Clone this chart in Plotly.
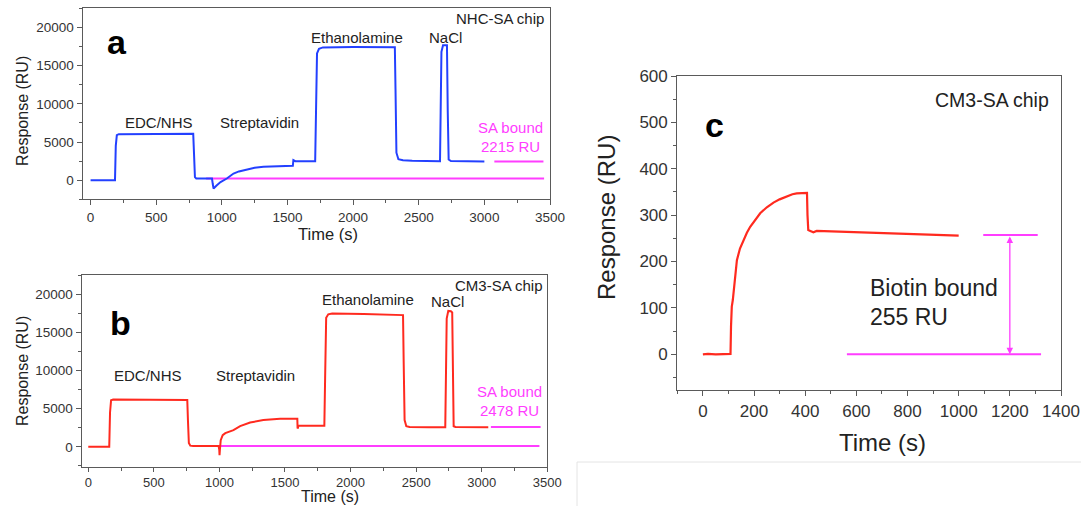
import plotly.graph_objects as go

W, H = 1081, 506
FONT = "Liberation Sans, Arial, sans-serif"
BLUE = "#2340ff"
RED = "#ff2a1f"
MAG = "#ff3dff"
AX = "#5a5a5a"
TXT = "#222222"

# ---------------- Panel a : NHC-SA chip (blue sensorgram) ----------------
a_time = [0, 186, 192, 200, 215, 400, 600, 782, 788, 795, 805, 850, 925, 931, 937, 960, 990,
          1038, 1060, 1089, 1130, 1190, 1250, 1317, 1380, 1444, 1500, 1541, 1545, 1560, 1711,
          1717, 1725, 1740, 1770, 2000, 2200, 2318, 2323, 2330, 2345, 2380, 2450, 2550, 2662,
          2667, 2673, 2685, 2700, 2715, 2721, 2728, 2745, 2850, 3000]
a_resp = [0, 0, 4500, 5900, 6020, 6060, 6080, 6080, 3500, 400, 230, 220, 220, -500, -1090, -700, -250,
          220, 500, 870, 1150, 1440, 1630, 1745, 1780, 1810, 1850, 1880, 2620, 2490, 2490,
          9000, 16600, 17200, 17380, 17420, 17420, 17400, 12000, 3600, 2750, 2620, 2560, 2520, 2490,
          9000, 16800, 17650, 17700, 17650, 9000, 2700, 2500, 2460, 2440]
a_base_t = [880, 3455]
a_base_r = [220, 220]
a_bound_t = [3076, 3450]
a_bound_r = [2450, 2450]

# ---------------- Panel b : CM3-SA chip (red sensorgram) ----------------
b_time = [0, 160, 166, 174, 190, 400, 600, 755, 760, 767, 778, 800, 890, 994, 999, 1001, 1004,
          1010, 1025, 1045, 1069, 1107, 1158, 1234, 1335, 1463, 1594, 1596, 1599, 1602, 1700,
          1800, 1806, 1814, 1830, 1860, 2100, 2300, 2400, 2405, 2412, 2425, 2450, 2600, 2722,
          2727, 2733, 2745, 2765, 2775, 2780, 2786, 2800, 2950, 3050]
b_resp = [0, 0, 4500, 6100, 6200, 6200, 6170, 6130, 3500, 500, 150, 100, 100, 100, -400, -1090, -300,
          880, 1530, 1800, 1970, 2190, 2710, 3190, 3500, 3670, 3690, 2400, 2500, 2750, 2750,
          2750, 9000, 16900, 17350, 17450, 17400, 17350, 17250, 11000, 3500, 2700, 2600, 2580, 2580,
          9000, 16800, 17800, 17750, 17600, 9000, 2700, 2600, 2580, 2580]
b_base_t = [891, 3440]
b_base_r = [100, 100]
b_bound_t = [3070, 3449]
b_bound_r = [2600, 2600]

# ---------------- Panel c : biotin binding on CM3-SA chip ----------------
c_time = [0, 20, 50, 80, 108, 110, 113, 117, 125, 133, 145, 159, 172, 185, 205, 224, 250, 276,
          300, 328, 350, 367, 390, 407, 409, 412, 420, 432, 445, 497, 600, 700, 800, 900, 1000]
c_resp = [0, 1, 0, 1, 1, 60, 103, 117, 160, 203, 228, 246, 262, 275, 291, 304, 317, 327,
          334, 341, 345, 347, 348, 348, 300, 268, 266, 263, 266, 265, 263, 261, 259, 257, 256]
c_base_t = [563, 1322]
c_base_r = [0, 0]
c_bound_t = [1096, 1309]
c_bound_r = [257, 257]
c_arrow_x = 1200

fig = go.Figure()

def line(x, y, color, xa, ya, w=2.0):
    fig.add_trace(go.Scatter(x=x, y=y, mode="lines", line=dict(color=color, width=w),
                             xaxis=xa, yaxis=ya, showlegend=False, hoverinfo="skip"))

line(a_base_t, a_base_r, MAG, "x", "y")
line(a_bound_t, a_bound_r, MAG, "x", "y")
line(a_time, a_resp, BLUE, "x", "y")
line(b_base_t, b_base_r, MAG, "x2", "y2")
line(b_bound_t, b_bound_r, MAG, "x2", "y2")
line(b_time, b_resp, RED, "x2", "y2")
line(c_base_t, c_base_r, MAG, "x3", "y3")
line(c_bound_t, c_bound_r, MAG, "x3", "y3")
line(c_time, c_resp, RED, "x3", "y3", 2.2)

def px_dom(a, b, n):
    return [a / n, b / n]

def py_dom(top, bottom):
    return [1 - bottom / H, 1 - top / H]

def axis(domain, anchor, rng, dtick, mdtick, tsize, tlen=5):
    return dict(domain=domain, anchor=anchor, range=rng, dtick=dtick, tick0=0,
                automargin=False, tickformat="d",
                showline=True, linecolor=AX, linewidth=1.3, mirror=True,
                ticks="outside", ticklen=tlen, tickwidth=1.2, tickcolor=AX,
                minor=dict(dtick=mdtick, tick0=0, ticks="outside", ticklen=3, tickwidth=1.1, tickcolor=AX),
                showgrid=False, zeroline=False,
                tickfont=dict(family=FONT, size=tsize, color="#333333"))

layout = dict(
    width=W, height=H, margin=dict(l=0, r=0, t=0, b=0, autoexpand=False),
    paper_bgcolor="white", plot_bgcolor="white", showlegend=False,
    xaxis=axis(px_dom(82.7, 550, W), "y", [-60, 3500], 500, 250, 13.5),
    yaxis=axis(py_dom(8.3, 199.3), "x", [-2500, 22500], 5000, 2500, 13.5),
    xaxis2=axis(px_dom(81.7, 547.3, W), "y2", [-50, 3500], 500, 250, 13, 4),
    yaxis2=axis(py_dom(275, 466.7), "x2", [-2600, 22500], 5000, 2500, 13.5),
    xaxis3=axis(px_dom(677.3, 1061, W), "y3", [-100, 1400], 200, 100, 17),
    yaxis3=axis(py_dom(76, 390), "x3", [-77, 600], 100, 50, 17),
)
fig.update_layout(**layout)

def txt(x, y, text, xr, yr, size, color=TXT, bold=False, xanchor="center"):
    if bold:
        text = "<b>" + text + "</b>"
    fig.add_annotation(x=x, y=y, xref=xr, yref=yr, text=text, showarrow=False,
                       xanchor=xanchor, yanchor="middle",
                       font=dict(family=FONT, size=size, color=color))

def axis_title(px, py, text, size, angle=0, yanchor="middle"):
    fig.add_annotation(x=px / W, y=1 - py / H, xref="paper", yref="paper", text=text,
                       showarrow=False, xanchor="center", yanchor=yanchor, textangle=angle,
                       borderpad=0, font=dict(family=FONT, size=size, color=TXT))

# axis titles
axis_title(22, 111, "Response (RU)", 16, -90)
axis_title(328, 234, "Time (s)", 16.5)
axis_title(22, 371, "Response (RU)", 16, -90)
axis_title(330, 506, "Time (s)", 16, yanchor="bottom")
axis_title(607, 218, "Response (RU)", 24, -90)
axis_title(882, 442, "Time (s)", 24)

# panel a labels
txt(200, 18100, "a", "x", "y", 34, "#000000", True)
txt(518, 7500, "EDC/NHS", "x", "y", 15)
txt(1287, 7500, "Streptavidin", "x", "y", 15)
txt(2027, 18700, "Ethanolamine", "x", "y", 15)
txt(2707, 18640, "NaCl", "x", "y", 15)
txt(3470, 21180, "NHC-SA chip", "x", "y", 15, xanchor="right")
txt(3200, 6850, "SA bound", "x", "y", 15, MAG)
txt(3200, 4360, "2215 RU", "x", "y", 15, MAG)

# panel b labels
txt(243, 16160, "b", "x2", "y2", 34, "#000000", True)
txt(453, 9400, "EDC/NHS", "x2", "y2", 15)
txt(1272, 9320, "Streptavidin", "x2", "y2", 15)
txt(2133, 19250, "Ethanolamine", "x2", "y2", 15)
txt(2737, 18990, "NaCl", "x2", "y2", 15)
txt(3480, 21180, "CM3-SA chip", "x2", "y2", 15, xanchor="right")
txt(3213, 7200, "SA bound", "x2", "y2", 15, MAG)
txt(3213, 4715, "2478 RU", "x2", "y2", 15, MAG)

# panel c labels
txt(44, 494, "c", "x3", "y3", 34, "#000000", True)
txt(1361, 548, "CM3-SA chip", "x3", "y3", 19.5, xanchor="right")
txt(647, 142, "Biotin bound", "x3", "y3", 23, xanchor="left")
txt(647, 81, "255 RU", "x3", "y3", 23, xanchor="left")

# double-headed arrow showing bound biotin
fig.add_annotation(x=c_arrow_x, y=c_base_r[0], ax=c_arrow_x, ay=c_bound_r[0],
                   xref="x3", yref="y3", axref="x3", ayref="y3", text="",
                   showarrow=True, arrowhead=2, startarrowhead=2, arrowside="end+start",
                   arrowsize=1, startarrowsize=1, arrowwidth=1.3, arrowcolor=MAG)

# faint frame lines of the composed figure
yl = 1 - 462 / H
fig.add_shape(type="line", xref="paper", yref="paper", x0=577 / W, x1=1, y0=yl, y1=yl,
              line=dict(color="#e4e4e4", width=1))
fig.add_shape(type="line", xref="paper", yref="paper", x0=577 / W, x1=577 / W, y0=0, y1=yl,
              line=dict(color="#e4e4e4", width=1))

fig.write_html("out.html", config={"displayModeBar": False},
               post_script="document.body.style.margin='0px';document.body.style.padding='0px';")
